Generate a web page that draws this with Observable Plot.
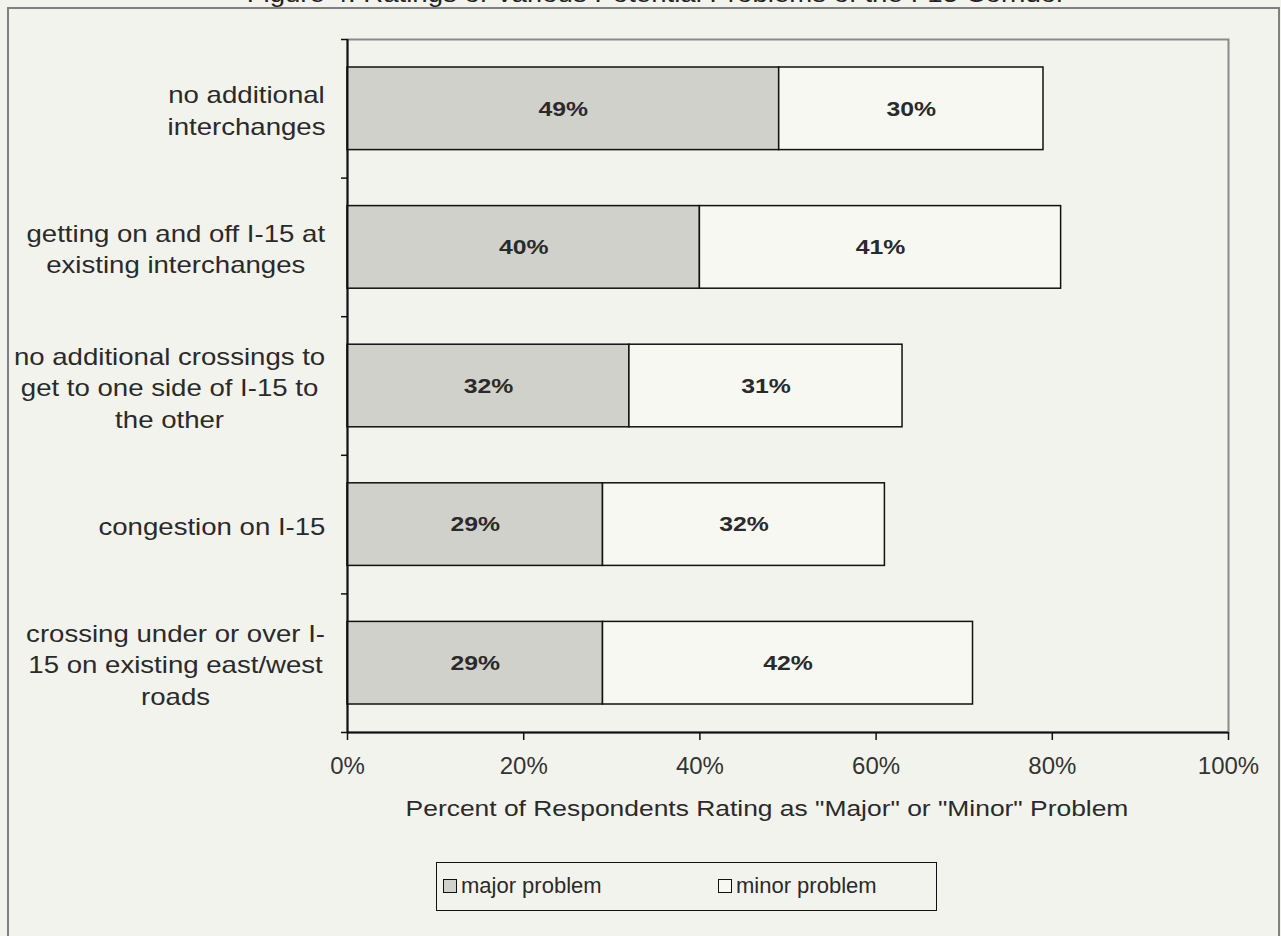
<!DOCTYPE html>
<html>
<head>
<meta charset="utf-8">
<script src="https://cdn.jsdelivr.net/npm/d3@7"></script>
<script src="https://cdn.jsdelivr.net/npm/@observablehq/plot@0.6"></script>
<style>
  html, body { margin: 0; padding: 0; background: #f3f3ed; overflow: hidden; }
  body { width: 1281px; height: 936px; position: relative; font-family: "Liberation Sans", Arial, sans-serif; color: #222; }
  #title { position: absolute; left: 656px; top: -19px; white-space: nowrap; font-size: 23px; line-height: 26px; transform: translateX(-50%) scaleX(1.2); }
  #frame { position: absolute; left: 7px; top: 7px; width: 1273px; height: 960px; border: 2px solid #808080; box-sizing: border-box; }
  #chart { position: absolute; left: 0; top: 0; }
  #xlabel { position: absolute; left: 767px; top: 796px; white-space: nowrap; font-size: 22px; line-height: 26px; color: #2a2a2a; transform: translateX(-50%) scaleX(1.2); }
  #legend { position: absolute; left: 436px; top: 862px; width: 501px; height: 49px; border: 1.5px solid #111; box-sizing: border-box; font-size: 22px; color: #2a2a2a; }
  .item { position: absolute; top: 11px; display: flex; align-items: center; line-height: 24px; }
  .sw { width: 12px; height: 12px; border: 1.5px solid #111; margin-right: 4px; }
</style>
</head>
<body>
<div id="title">Figure 4. Ratings of Various Potential Problems of the I-15 Corridor</div>
<div id="frame"></div>
<div id="chart"></div>
<div id="xlabel"></div>
<div id="legend"></div>
<script>
const categories = [
  "no additional\ninterchanges",
  "getting on and off I-15 at\nexisting interchanges",
  "no additional crossings to\nget to one side of I-15 to\nthe other",
  "congestion on I-15",
  "crossing under or over I-\n15 on existing east/west\nroads"
];
const major = [49, 40, 32, 29, 29];
const minor = [30, 41, 31, 32, 42];
const seriesNames = ["major problem", "minor problem"];
const seriesColors = ["#d1d1cc", "#f8f8f3"];
const xTicks = [0, 20, 40, 60, 80, 100];
const xLabel = 'Percent of Respondents Rating as "Major" or "Minor" Problem';

const table = categories.flatMap((c, i) => [
  {i, cat: c, series: seriesNames[0], value: major[i]},
  {i, cat: c, series: seriesNames[1], value: minor[i]}
]);

const font = '"Liberation Sans", Arial, sans-serif';

const chart = Plot.plot({
  width: 1281,
  height: 800,
  marginLeft: 347,
  marginRight: 53,
  marginTop: 39,
  marginBottom: 68,
  style: {background: "transparent", fontFamily: font, fontSize: "19px", color: "#222", overflow: "visible"},
  x: {domain: [0, 100], label: null},
  y: {domain: [0, categories.length], reverse: true, label: null},
  color: {domain: seriesNames, range: seriesColors},
  marks: [
    Plot.frame({stroke: "#8a8a8a", strokeWidth: 2}),
    Plot.rectX(table, Plot.stackX({
      x: "value", y: "i", interval: 1, insetTop: 28, insetBottom: 28,
      fill: "series", stroke: "#111", strokeWidth: 1.5
    })),
    Plot.text(table, Plot.stackX({
      x: "value", y: d => d.i + 0.5, text: d => d.value + "%",
      fontWeight: "bold", fontSize: 21, fill: "#2a2a2a"
    })),
    Plot.ruleX([0], {stroke: "#111", strokeWidth: 2}),
    Plot.ruleY([categories.length], {stroke: "#111", strokeWidth: 2}),
    Plot.axisY({ticks: d3.range(categories.length + 1), tickSize: 6, tickFormat: () => "", stroke: "#111", strokeWidth: 1.5, label: null}),
    Plot.axisY({
      ticks: categories.map((c, i) => i + 0.5), tickSize: 0, tickPadding: 22,
      tickFormat: v => categories[Math.floor(v)], lineHeight: 1.37, fontSize: 23, fill: "#2a2a2a", label: null
    }),
    Plot.axisX({
      ticks: xTicks, tickSize: 8, tickPadding: 16, tickFormat: d => d + "%",
      fontSize: 24, fill: "#333", stroke: "#111", strokeWidth: 1.5, label: null
    })
  ]
});
document.getElementById("chart").append(chart);
document.getElementById("xlabel").textContent = xLabel;

// horizontally widen the category labels and center each multi-line block (right edge at the axis)
const sx = 1.2;
chart.querySelectorAll('g[aria-label="y-axis tick label"] text').forEach(t => {
  if (!t.textContent.trim()) return;
  const w = t.getBBox().width;
  t.setAttribute("text-anchor", "middle");
  t.setAttribute("transform", (t.getAttribute("transform") || "") + ` translate(${-w * sx / 2},0) scale(${sx},1)`);
});
// widen the value labels inside the bars
chart.querySelectorAll('g[aria-label="text"] text').forEach(t => {
  t.setAttribute("transform", (t.getAttribute("transform") || "") + ` scale(1.18,1)`);
});

const legend = document.getElementById("legend");
const lx = [6, 281];
seriesNames.forEach((s, k) => {
  const it = document.createElement("div");
  it.className = "item";
  it.style.left = lx[k] + "px";
  it.innerHTML = `<div class="sw" style="background:${seriesColors[k]}"></div><span>${s}</span>`;
  legend.append(it);
});
</script>
</body>
</html>
